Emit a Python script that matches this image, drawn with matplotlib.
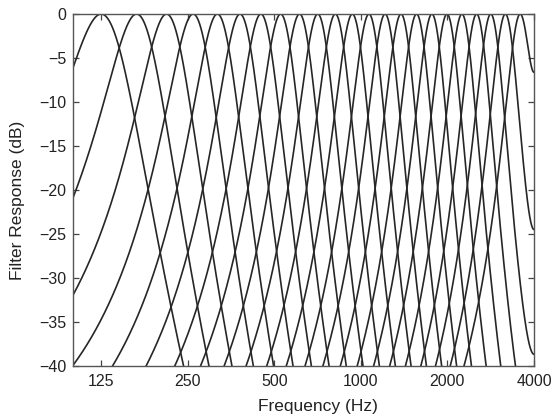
import numpy as np
import matplotlib
matplotlib.use("Agg")
import matplotlib.pyplot as plt

# Gammatone filterbank: centre frequencies (Hz), roughly one ERB apart
center_freqs = [125, 166, 211, 261, 317, 380, 449, 526, 612, 708, 815, 934,
                1067, 1214, 1379, 1562, 1766, 1993, 2246, 2527, 2830, 3180, 3575]
tick_freqs = [125, 250, 500, 1000, 2000, 4000]
tick_labels = ["125", "250", "500", "1000", "2000", "4000"]
y_ticks = [0, -5, -10, -15, -20, -25, -30, -35, -40]

fs = 8000.0      # sampling rate; responses fold back about fs/2
order = 4

plt.rcParams["font.family"] = ["Liberation Sans", "DejaVu Sans"]

fig = plt.figure(figsize=(5.53, 4.17), dpi=100)
ax = fig.add_axes([0.1326, 0.1223, 0.8330, 0.8441])

f = np.geomspace(98, 4000, 4000)


def gammatone_mag(freq, fc, b):
    """Magnitude of an order-4 gammatone filter around its centre frequency."""
    return (1.0 + ((freq - fc) / b) ** 2) ** (-order / 2.0)


for fc in center_freqs:
    erb = 24.7 * (4.37 * fc / 1000.0 + 1.0)
    b = 1.019 * erb
    # direct response plus the mirrored image above the Nyquist frequency
    H = gammatone_mag(f, fc, b) + gammatone_mag(fs - f, fc, b)
    H_db = 20 * np.log10(H / H.max())
    ax.plot(f, H_db, color="#262626", lw=1.2)

ax.set_xscale("log")
ax.set_xlim(100, 4000)
ax.set_ylim(-40, 0)
ax.set_xticks(tick_freqs)
ax.set_xticklabels(tick_labels)
ax.xaxis.set_minor_locator(matplotlib.ticker.NullLocator())
ax.set_yticks(y_ticks)
ax.set_yticklabels([str(v).replace("-", "\u2212") for v in y_ticks])

ax.tick_params(axis="both", which="both", direction="in", length=4,
               width=0.9, color="#444444", top=True, right=True,
               labelsize=11.5, labelcolor="#222222")
ax.tick_params(axis="x", pad=6)
ax.tick_params(axis="y", pad=5)
for s in ax.spines.values():
    s.set_color("#555555")
    s.set_linewidth(1.0)

fig.text(318 / 553, 1 - 407 / 417, "Frequency (Hz)", ha="center", va="center",
         fontsize=12.5, color="#222222")
fig.text(18 / 553, 1 - 200 / 417, "Filter Response (dB)", ha="center",
         va="center", rotation=90, fontsize=12.5, color="#222222")

fig.savefig("out.png", dpi=100)
